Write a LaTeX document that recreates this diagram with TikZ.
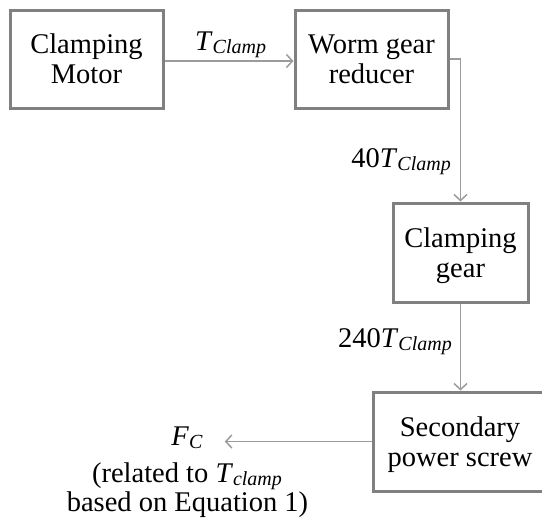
\documentclass[tikz,border=0pt]{standalone}
\usepackage{fontspec}
\setmainfont{Liberation Serif}
\usetikzlibrary{arrows.meta}
\definecolor{boxgray}{RGB}{128,128,128}
\definecolor{linegray}{RGB}{155,155,155}
\newcommand\Tsub[2]{\textit{#1}\raisebox{-3.5pt}{\fontsize{20}{20}\selectfont\textit{#2}}}
\begin{document}
\begin{tikzpicture}[x=1pt,y=-1pt,
  blk/.style={draw=boxgray,line width=3pt,rectangle,inner sep=0pt,align=center,
    text depth=0pt,font=\fontsize{28.5}{30}\selectfont},
  conn/.style={draw=linegray,line width=1.5pt,-{Straight Barb[length=6pt,width=13pt]}},
  lbl/.style={inner sep=0pt,font=\fontsize{28.5}{30}\selectfont}]
\clip (0,0) rectangle (542,520);
\node[blk,minimum width=153pt,minimum height=98pt] (b1) at (86.5,59) {Clamping\\Motor};
\node[blk,minimum width=153pt,minimum height=98pt] (b2) at (371.5,59) {Worm gear\\reducer};
\node[blk,minimum width=135pt,minimum height=99pt] (b3) at (460.5,252.5) {Clamping\\gear};
\node[blk,minimum width=174pt,minimum height=99pt] (b4) at (460,441.5) {Secondary\\power screw};
\node[lbl,anchor=base west] (l1) at (195,50) {\Tsub{T}{Clamp}};
\node[lbl,anchor=base east] (l2) at (451,167) {40\Tsub{T}{Clamp}};
\node[lbl,anchor=base east] (l3) at (452,347) {240\Tsub{T}{Clamp}};
\node[lbl,anchor=base] (fc) at (187,445) {\Tsub{F}{C}};
\node[lbl,anchor=base] (rel) at (187,482) {(related to \Tsub{T}{clamp}};
\node[lbl,anchor=base] (eq) at (187.5,511) {based on Equation 1)};
\draw[conn] ([yshift=-2pt]b1.east) -- ([yshift=-2pt]b2.west);
\draw[conn] (b2.east) -| (b3.north);
\draw[conn] (b3.south) -- (b3.south |- b4.north);
\draw[conn,shorten >=22pt] (b4.west) -- (b4.west -| fc.east);
\end{tikzpicture}
\end{document}
